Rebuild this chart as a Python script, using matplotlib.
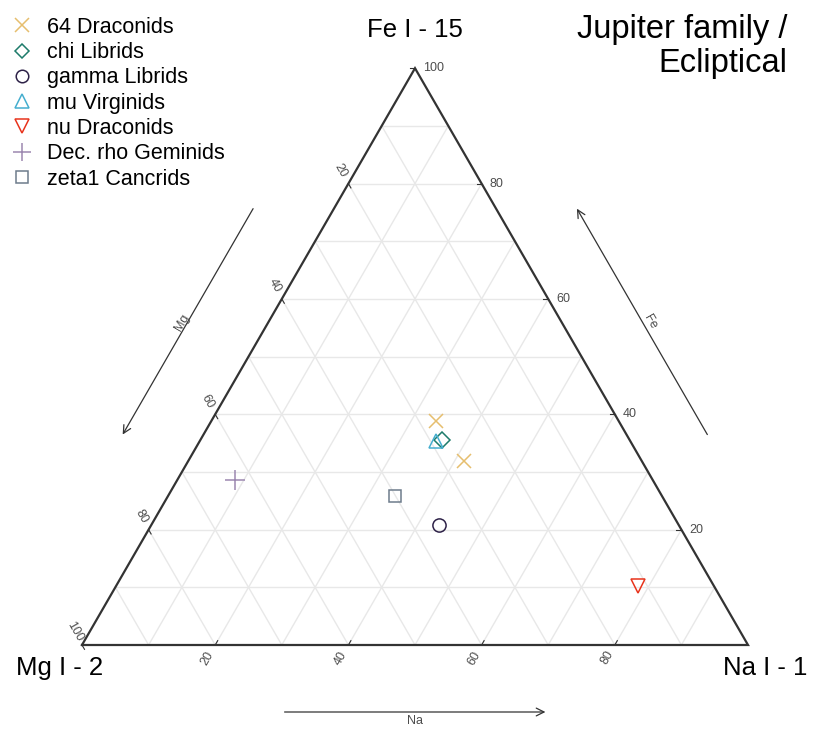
import numpy as np
import matplotlib
matplotlib.use("Agg")
import matplotlib.pyplot as plt
from matplotlib.lines import Line2D

plt.rcParams['font.family'] = ['Liberation Sans', 'DejaVu Sans']

# ---- data (percent: Mg, Na, Fe) ----
series = ["64 Draconids", "chi Librids", "gamma Librids", "mu Virginids",
          "nu Draconids", "Dec. rho Geminids", "zeta1 Cancrids"]
mg_vals = [[27.4, 26.7], [28.1], [36.0], [29.2], [11.4], [62.7], [40.0]]
na_vals = [[33.7, 41.4], [36.3], [43.2], [35.4], [78.4], [8.7], [34.1]]
fe_vals = [[38.9, 31.9], [35.6], [20.8], [35.4], [10.2], [28.6], [25.9]]
markers = ["x", "D", "o", "^", "v", "+", "s"]
colors = ["#E6BE6E", "#1E7B6B", "#2E2248", "#45AECF", "#E8341C", "#9C88B0", "#6E7C8C"]
msizes = [10, 8, 9.5, 10, 10, 14, 9]

fe_ticks = [20, 40, 60, 80, 100]
mg_ticks = [20, 40, 60, 80, 100]
na_ticks = [20, 40, 60, 80]
vertex_labels = ["Mg I - 2", "Na I - 1", "Fe I - 15"]
axis_names = ["Mg", "Na", "Fe"]
title = "Jupiter family /\nEcliptical"

# ---- geometry (pixel frame) ----
X0, Y0 = 82.0, 645.0   # Mg vertex
L = 666.0
H = L * np.sqrt(3) / 2


def proj(mg, na, fe):
    mg, na, fe = np.asarray(mg, float), np.asarray(na, float), np.asarray(fe, float)
    s = mg + na + fe
    na, fe = na / s, fe / s
    return X0 + L * (na + fe / 2), Y0 - H * fe


fig = plt.figure(figsize=(8.30, 7.36), dpi=100)
ax = fig.add_axes([0, 0, 1, 1])
ax.set_xlim(0, 830)
ax.set_ylim(736, 0)
ax.axis("off")

# grid
for v in range(10, 100, 10):
    c = "#e8e8e8"
    lw = 1.0
    f = v / 100
    x, y = proj([1 - f, 0], [0, 1 - f], [f, f])
    ax.plot(x, y, color=c, lw=lw, zorder=1)
    x, y = proj([f, f], [0, 1 - f], [1 - f, 0])
    ax.plot(x, y, color=c, lw=lw, zorder=1)
    x, y = proj([0, 1 - f], [f, f], [1 - f, 0])
    ax.plot(x, y, color=c, lw=lw, zorder=1)

# triangle border
x, y = proj([1, 0, 0, 1], [0, 1, 0, 0], [0, 0, 1, 0])
ax.plot(x, y, color="#333333", lw=1.6, zorder=3, solid_joinstyle="miter")

# ticks and tick labels
s3 = np.sqrt(3) / 2
tick_kw = dict(fontsize=9, color="#4d4d4d")
for v in fe_ticks:
    f = v / 100
    px, py = proj(0, 1 - f, f)
    ax.plot([px, px - 5], [py, py], color="#333333", lw=0.8, zorder=3)
    ax.text(px + 8, py, str(v), ha="left", va="center", **tick_kw)
for v in mg_ticks:
    f = v / 100
    px, py = proj(f, 0, 1 - f)
    ax.plot([px, px + 5 * 0.5], [py, py + 5 * s3], color="#333333", lw=0.8, zorder=3)
    ax.text(px - 15 * 0.5, py - 15 * s3, str(v), ha="center", va="center",
            rotation=-60, **tick_kw)
for v in na_ticks:
    f = v / 100
    px, py = proj(1 - f, f, 0)
    ax.plot([px, px + 5 * 0.5], [py, py - 5 * s3], color="#333333", lw=0.8, zorder=3)
    ax.text(px - 15 * 0.5, py + 15 * s3, str(v), ha="center", va="center",
            rotation=60, **tick_kw)

# axis arrows (parallel to edges, offset outward)
off = 70
lab_off = 9
arrow_kw = dict(arrowstyle="->", color="#333333", lw=0.9, mutation_scale=14)
a0 = np.array(proj(0.3, 0, 0.7)); a1 = np.array(proj(0.7, 0, 0.3))
n = np.array([-s3, -0.5])
ax.annotate("", xy=a1 + off * n, xytext=a0 + off * n, arrowprops=arrow_kw)
m = (a0 + a1) / 2 + (off + lab_off) * n
ax.text(m[0] + 2, m[1] + 5, axis_names[0], rotation=60, ha="center", va="center", **tick_kw)

a0 = np.array(proj(0, 0.7, 0.3)); a1 = np.array(proj(0, 0.3, 0.7))
n = np.array([s3, -0.5])
ax.annotate("", xy=a1 + off * n, xytext=a0 + off * n, arrowprops=arrow_kw)
m = (a0 + a1) / 2 + (off + lab_off) * n
ax.text(m[0], m[1] + 5, axis_names[2], rotation=-60, ha="center", va="center", **tick_kw)

a0 = np.array(proj(0.7, 0.3, 0)); a1 = np.array(proj(0.3, 0.7, 0))
n = np.array([0, 1.0])
ax.annotate("", xy=a1 + 67 * n, xytext=a0 + 67 * n, arrowprops=arrow_kw)
m = (a0 + a1) / 2 + (67 + lab_off) * n
ax.text(m[0], m[1], axis_names[1], ha="center", va="center", **tick_kw)

# vertex labels
ax.text(60, 668, vertex_labels[0], fontsize=18.5, ha="center", va="center")
ax.text(765, 668, vertex_labels[1], fontsize=18.5, ha="center", va="center")
ax.text(415, 30, vertex_labels[2], fontsize=18.5, ha="center", va="center")

# title
ax.text(787, 14, title, fontsize=23.5, ha="right", va="top", linespacing=1.12)

# data
handles = []
for name, mg, na, fe, mk, c, ms in zip(series, mg_vals, na_vals, fe_vals, markers, colors, msizes):
    x, y = proj(mg, na, fe)
    ax.plot(x, y, linestyle="none", marker=mk, markersize=ms, markerfacecolor="none",
            markeredgecolor=c, markeredgewidth=1.1, zorder=5)
    handles.append(Line2D([], [], linestyle="none", marker=mk, markersize=ms * 0.95,
                          markerfacecolor="none", markeredgecolor=c, markeredgewidth=1.1,
                          label=name))

leg = ax.legend(handles=handles, loc="upper left", bbox_to_anchor=(0.008, 0.986),
                frameon=False, fontsize=15.5, handlelength=0.83, handletextpad=0.75,
                labelspacing=0.2, borderpad=0.3, borderaxespad=0.0)

fig.savefig("out.png", dpi=100)
